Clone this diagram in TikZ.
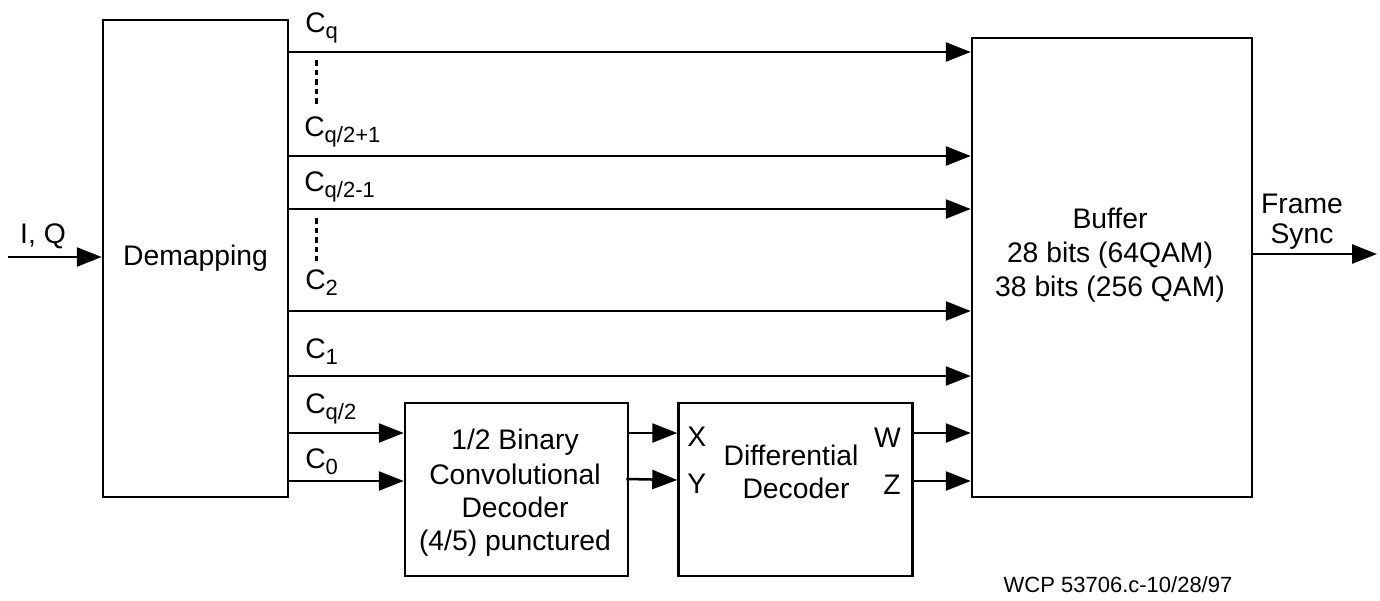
\documentclass[tikz,border=0pt]{standalone}
\usepackage{fontspec}
\setmainfont{Liberation Sans}
\usetikzlibrary{arrows.meta}
\newcommand\Csb[1]{C\raisebox{-0.22em}{\fontsize{22}{22}\selectfont #1}}
\begin{document}
\begin{tikzpicture}[x=1pt,y=-1pt,line width=2.5pt,
  blk/.style={draw,rectangle,inner sep=0pt},
  txt/.style={font=\fontsize{28.3}{34}\selectfont,inner sep=0pt,anchor=base},
  lbl/.style={font=\fontsize{28.3}{34}\selectfont,inner sep=0pt,anchor=base west},
  arr/.style={-{Triangle[length=25pt,width=19pt]}},
  dotline/.style={line width=3pt,dash pattern=on 5.5pt off 4pt}]
\useasboundingbox (0,0) rectangle (1380,600);
\fill[white] (0,0) rectangle (1380,600);
% blocks
\node[blk,minimum width=185pt,minimum height=477pt] (dem) at (195.5,258.5) {};
\node[txt] (demt) at (195.5,265) {Demapping};
\node[blk,minimum width=280pt,minimum height=459pt] (buf) at (1112,267.5) {};
\node[txt] (buf1) at (1110,228) {Buffer};
\node[txt] (buf2) at (1110,262) {28 bits (64QAM)};
\node[txt] (buf3) at (1110,296) {38 bits (256 QAM)};
\node[blk,minimum width=223pt,minimum height=173pt] (conv) at (516.5,489.5) {};
\node[txt] (cv1) at (515,449) {1/2 Binary};
\node[txt] (cv2) at (515,484) {Convolutional};
\node[txt] (cv3) at (515,517) {Decoder};
\node[txt] (cv4) at (515,550) {(4/5) punctured};
\node[blk,minimum width=234pt,minimum height=173pt] (diff) at (795.5,489.5) {};
\node[txt] (df1) at (791,465) {Differential};
\node[txt] (df2) at (796,498) {Decoder};
\node[txt,anchor=base west] (xl) at (686,446) {X};
\node[txt,anchor=base west] (yl) at (686,493) {Y};
\node[txt,anchor=base east] (wl) at (902,447) {W};
\node[txt,anchor=base east] (zl) at (902,494) {Z};
% input
\coordinate (in) at (8,257);
\node[txt] (iq) at (43,243) {I, Q};
\draw[arr] (in) -- (in -| dem.west);
% output
\coordinate (out) at (1377,254);
\node[txt] (fs1) at (1302,213) {Frame};
\node[txt] (fs2) at (1302,243) {Sync};
\draw[arr] (buf.east |- out) -- (out);
% channel lines
\foreach \yy in {52,156,209,311,376}{
  \draw[arr] (dem.east |- 0,\yy) -- (buf.west |- 0,\yy);
}
\draw[arr] (dem.east |- 0,433) -- (conv.west |- 0,433);
\draw[arr] (dem.east |- 0,481) -- (conv.west |- 0,481);
\draw[arr] (conv.east |- 0,433) -- (diff.west |- 0,433);
\draw[arr] ([xshift=-3pt]conv.east |- 0,479) -- (diff.west |- 0,480);
\draw[arr] (diff.east |- 0,433) -- (buf.west |- 0,433);
\draw[arr] (diff.east |- 0,481) -- (buf.west |- 0,481);
% labels
\node[lbl] (c1) at (304,32) {\Csb{q}};
\node[lbl] (c2) at (303,136) {\Csb{q/2+1}};
\node[lbl] (c3) at (303,191) {\Csb{q/2-1}};
\node[lbl] (c4) at (304,289) {\Csb{2}};
\node[lbl] (c5) at (304,358) {\Csb{1}};
\node[lbl] (c6) at (304,413) {\Csb{q/2}};
\node[lbl] (c7) at (304,468) {\Csb{0}};
\coordinate (d1a) at (316,60);
\coordinate (d1b) at (316,104);
\coordinate (d2a) at (316,218);
\coordinate (d2b) at (316,261);
\draw[dotline] (d1a) -- (d1b);
\draw[dotline] (d2a) -- (d2b);
% footer
\node[txt,font=\fontsize{22}{26}\selectfont,anchor=center] (foot) at (1118,585) {WCP 53706.c-10/28/97};
\end{tikzpicture}
\end{document}
